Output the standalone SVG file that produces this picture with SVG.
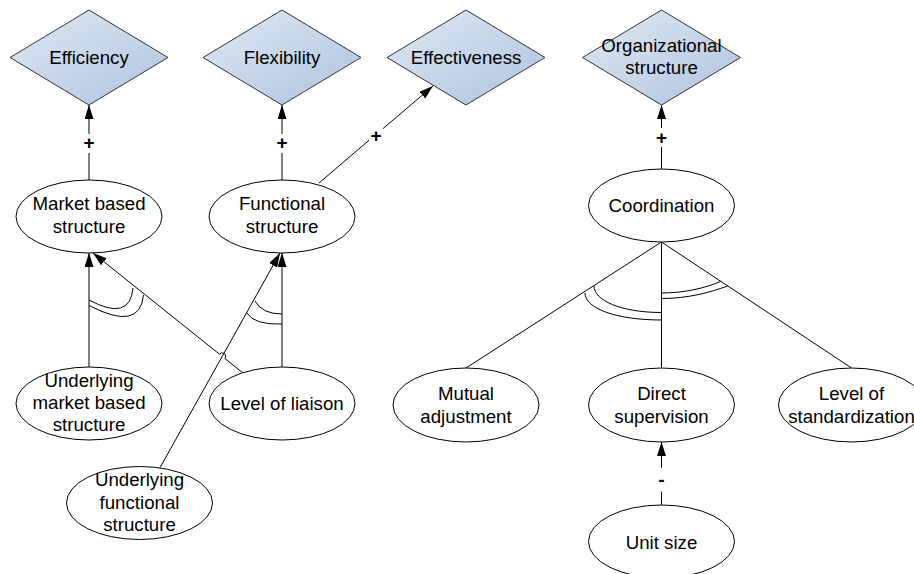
<svg xmlns="http://www.w3.org/2000/svg" width="914" height="574" viewBox="0 0 914 574">
<defs>
<linearGradient id="dg" x1="0" y1="0" x2="1" y2="1">
<stop offset="0" stop-color="#e0e9f4"/>
<stop offset="1" stop-color="#aec3df"/>
</linearGradient>
<marker id="ah" markerWidth="15" markerHeight="10" refX="14" refY="4.5" orient="auto" markerUnits="userSpaceOnUse">
<path d="M0,0 L14,4.5 L0,9 z" fill="#000"/>
</marker>
<style>
text{font-family:"Liberation Sans",Arial,sans-serif;font-size:18.67px;fill:#000;text-anchor:middle}
.dia{fill:url(#dg);stroke:#333;stroke-width:1}
.ell{fill:#fff;stroke:#000;stroke-width:1}
.c{fill:none;stroke:#000;stroke-width:1}
.a{fill:none;stroke:#000;stroke-width:1;marker-end:url(#ah)}
.lbl{font-size:19px;font-weight:bold}
</style>
</defs>
<rect width="914" height="574" fill="#fff"/>
<g id="connectors">
<path class="a" d="M89,180 L89,153 M89,134 L89,105"/>
<text class="lbl" x="89" y="148.5">+</text>
<path class="a" d="M282,180 L282,153 M282,134 L282,105"/>
<text class="lbl" x="282" y="148.5">+</text>
<path class="a" d="M319,183 L369,140.3 M382.9,128.7 L433,86"/>
<text class="lbl" x="376" y="141.5">+</text>
<path class="a" d="M661.5,169 L661.5,147 M661.5,128 L661.5,105"/>
<text class="lbl" x="661.5" y="143.5">+</text>
<path class="a" d="M661.5,505 L661.5,491.6 M661.5,467.7 L661.5,442"/>
<text class="lbl" x="661.5" y="485.5">-</text>
<path class="a" d="M89,367 L89,253"/>
<path class="a" d="M243,373 L224.93,358.57 A3.5,3.5 0 0 0 219.47,354.19 L93,253"/>
<path class="a" d="M160,467.7 L280,253"/>
<path class="a" d="M282,367 L282,253"/>
<path class="c" d="M89,300 Q130,322 133,288"/>
<path class="c" d="M89,305.5 Q140,332 143.5,295"/>
<path class="c" d="M255,301 Q262,314 282,314"/>
<path class="c" d="M247,313 Q254,325 282,324"/>
<path class="c" d="M661.5,242 L466,368 M661.5,242 L661.5,368 M661.5,242 L851.5,368"/>
<path class="c" d="M594,286 C594,300 620,312.5 661.5,312.5"/>
<path class="c" d="M585,293 C585,308 615,320 661.5,320"/>
<path class="c" d="M661.5,293 C685,293 705,288 720.5,281.5"/>
<path class="c" d="M661.5,298.5 C688,298.5 710,292.5 727.5,286"/>
</g>
<g id="efficiency">
<path class="dia" d="M10,57.5 L89,10 L168,57.5 L89,105 z"/>
<text x="89" y="63.5">Efficiency</text>
</g>
<g id="flexibility">
<path class="dia" d="M203,57.5 L282,10 L361,57.5 L282,105 z"/>
<text x="282" y="63.5">Flexibility</text>
</g>
<g id="effectiveness">
<path class="dia" d="M387,57.5 L466,10 L545,57.5 L466,105 z"/>
<text x="466" y="63.5">Effectiveness</text>
</g>
<g id="organizational-structure">
<path class="dia" d="M582.5,57.5 L661.5,10 L740.5,57.5 L661.5,105 z"/>
<text x="661.5" y="51.5">Organizational</text>
<text x="661.5" y="74">structure</text>
</g>
<g id="market-based-structure">
<ellipse class="ell" cx="89" cy="216.5" rx="73" ry="36.5"/>
<text x="89" y="210">Market based</text>
<text x="89" y="232.5">structure</text>
</g>
<g id="functional-structure">
<ellipse class="ell" cx="282" cy="216.5" rx="73" ry="36.5"/>
<text x="282" y="210">Functional</text>
<text x="282" y="232.5">structure</text>
</g>
<g id="coordination">
<ellipse class="ell" cx="661.5" cy="205.5" rx="73" ry="36.5"/>
<text x="661.5" y="212">Coordination</text>
</g>
<g id="underlying-market-based-structure">
<ellipse class="ell" cx="89" cy="403.5" rx="73" ry="36.5"/>
<text x="89" y="386.5">Underlying</text>
<text x="89" y="409">market based</text>
<text x="89" y="431">structure</text>
</g>
<g id="level-of-liaison">
<ellipse class="ell" cx="282" cy="403.5" rx="73" ry="36.5"/>
<text x="282" y="409.5">Level of liaison</text>
</g>
<g id="underlying-functional-structure">
<ellipse class="ell" cx="139.5" cy="503" rx="73" ry="36.5"/>
<text x="139.5" y="486">Underlying</text>
<text x="139.5" y="508.5">functional</text>
<text x="139.5" y="530.5">structure</text>
</g>
<g id="mutual-adjustment">
<ellipse class="ell" cx="466" cy="405" rx="73" ry="37"/>
<text x="466" y="400">Mutual</text>
<text x="466" y="423">adjustment</text>
</g>
<g id="direct-supervision">
<ellipse class="ell" cx="661.5" cy="405" rx="73" ry="37"/>
<text x="661.5" y="400">Direct</text>
<text x="661.5" y="423">supervision</text>
</g>
<g id="level-of-standardization">
<ellipse class="ell" cx="851.5" cy="405" rx="73" ry="37"/>
<text x="851.5" y="400">Level of</text>
<text x="851.5" y="423">standardization</text>
</g>
<g id="unit-size">
<ellipse class="ell" cx="661.5" cy="541.5" rx="73" ry="36.5"/>
<text x="661.5" y="548.5">Unit size</text>
</g>
</svg>
